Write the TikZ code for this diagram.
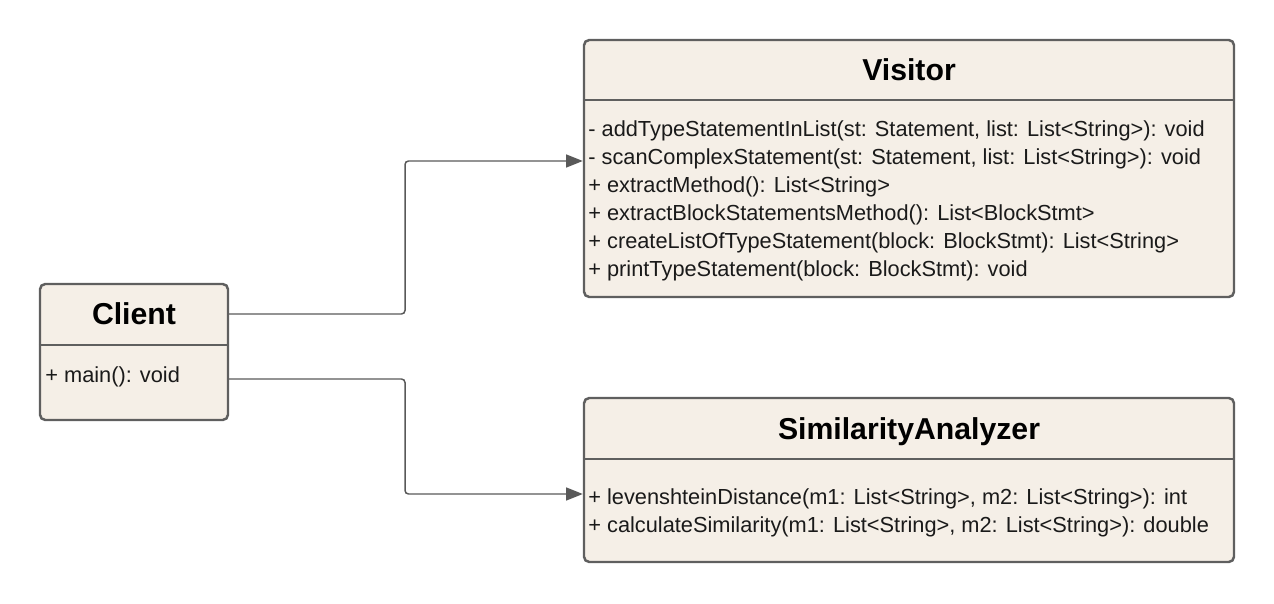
\documentclass[tikz,border=0pt]{standalone}
\usepackage{fontspec}
\setmainfont{Liberation Sans}
\usetikzlibrary{arrows.meta, fit, positioning}
\definecolor{classFill}{HTML}{F5EFE7}
\definecolor{classLine}{HTML}{5F5F5F}
\definecolor{linkGrey}{HTML}{595959}
\definecolor{textDark}{HTML}{1A1A1A}

\begin{document}
\begin{tikzpicture}[
    x=0.02cm, y=-0.02cm,
    classbox/.style={rectangle, draw=classLine, fill=classFill, line width=1.4pt,
                     rounded corners=3pt, inner sep=0pt},
    divider/.style={draw=classLine, line width=1.4pt},
    classname/.style={anchor=base, inner sep=0pt, font=\fontsize{17.2}{20}\selectfont\bfseries},
    member/.style={anchor=base west, inner sep=0pt, text=textDark, font=\fontsize{12.4}{15}\selectfont},
    link/.style={-{Triangle[length=9.5pt, width=7.4pt]}, draw=linkGrey, line width=0.85pt, rounded corners=2pt}
  ]
  \useasboundingbox (0,0) rectangle (1274,604);
  % class boxes
  \node[classbox, fit={(40,284) (228,420)}] (client) {};
  \node[classbox, fit={(584,40) (1234,297)}] (visitor) {};
  \node[classbox, fit={(584,398) (1234,562)}] (analyzer) {};
  \draw[divider] (client.west |- 0,345) -- (client.east |- 0,345);
  \draw[divider] (visitor.west |- 0,100) -- (visitor.east |- 0,100);
  \draw[divider] (analyzer.west |- 0,459) -- (analyzer.east |- 0,459);
  % names
  \node[classname] (clientName) at (134,325) {Client};
  \node[classname] (visitorName) at (909,81) {Visitor};
  \node[classname] (analyzerName) at (909,439) {SimilarityAnalyzer};
  % members
  \node[member] (clientMain) at (45,382) {+ main(): void};
  \foreach \txt [count=\i] in {{- addTypeStatementInList(st: Statement, list: List<String>): void},
      {- scanComplexStatement(st: Statement, list: List<String>): void},
      {+ extractMethod(): List<String>},
      {+ extractBlockStatementsMethod(): List<BlockStmt>},
      {+ createListOfTypeStatement(block: BlockStmt): List<String>},
      {+ printTypeStatement(block: BlockStmt): void}}
    \node[member] (visitor\i) at (588, {108.5+28*\i}) {\txt};
  \foreach \txt [count=\i] in {{+ levenshteinDistance(m1: List<String>, m2: List<String>): int},
      {+ calculateSimilarity(m1: List<String>, m2: List<String>): double}}
    \node[member] (analyzer\i) at (588, {476+28*\i}) {\txt};
  % links
  \draw[link] (client.east |- 0,314) -- (405,314) |- (visitor.west |- 0,161);
  \draw[link] (client.east |- 0,379) -- (405,379) |- (analyzer.west |- 0,494);
\end{tikzpicture}
\end{document}
